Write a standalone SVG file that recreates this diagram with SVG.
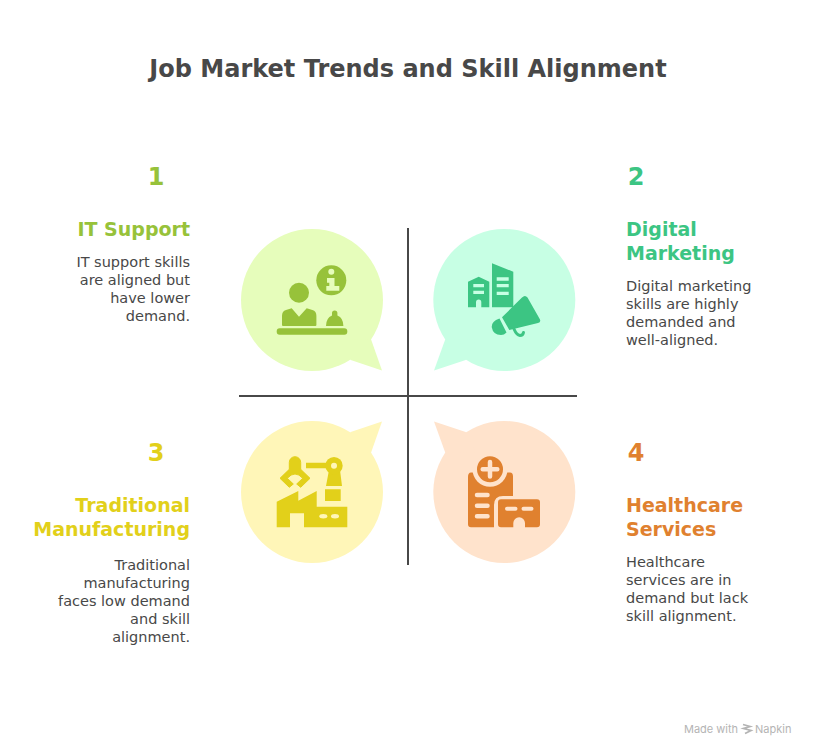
<svg xmlns="http://www.w3.org/2000/svg" width="816" height="756" viewBox="0 0 816 756">
<style>
text{font-family:"DejaVu Sans","Open Sans",sans-serif}
.t{font-size:24px;font-weight:700;fill:#484848}
.n{font-size:24px;font-weight:700}
.h{font-size:19px;font-weight:700}
.b{font-size:14.500px;fill:#484848}
.f{font-family:"Inter","Roboto",sans-serif;font-size:11px;fill:#b4b4b4}
.e{text-anchor:end}
.c{text-anchor:middle}
.g{fill:#97c23a}.m{fill:#3cc583}.y{fill:#e2d01a}.o{fill:#e0812f}
.sg{fill:#e6fdbb}.sm{fill:#c7ffe4}.sy{fill:#fff6b8}.so{fill:#ffe3cc}
.ax{stroke:#484848;stroke-width:2;fill:none}
</style>
<rect width="816" height="756" fill="#fff"/>
<text class="t c" x="408" y="77">Job Market Trends and Skill Alignment</text>
<g id="connectors"><path class="ax" d="M408 228V565M239 396H577"/></g>
<g id="node1">
<circle class="sg" cx="312" cy="300" r="71"/><path class="sg" d="M371 339.300L382 370.500 350.700 360 340 340z"/>
<text class="n g c" x="156" y="185">1</text>
<text class="h g e" x="190" y="236">IT Support</text>
<text class="b e" x="190" y="267">IT support skills</text><text class="b e" x="190" y="285">are aligned but</text><text class="b e" x="190" y="303">have lower</text><text class="b e" x="190" y="321">demand.</text>
<circle cx="299" cy="292.700" r="10" class="g"/>
<path class="g" d="M283 326q-1 0-1-1v-9q0-5 4-6l5.700-1.700 7.300 8.400 7.700-8.400 5.700 1.700q4 1 4 6v9q0 1-1 1z"/>
<rect x="276.700" y="328.300" width="70.600" height="6.400" rx="3" class="g"/>
<path class="g" d="M326 326q0-8 6-10.500v-2.500q0-2.500 2.700-2.500t2.700 2.500v2.500q6 2.500 6 10.500z"/>
<circle cx="331.300" cy="280.300" r="15" class="g"/>
<circle cx="331.300" cy="271.700" r="3" class="sg"/>
<path class="sg" d="M327 278h7.500v8h4.800v4.700h-13v-4.700h3v-3.300h-2.300z"/>
</g>
<g id="node2">
<circle class="sm" cx="504.300" cy="300" r="71"/><path class="sm" d="M445.300 339.300L434 370.500 465.700 360 476 340z"/>
<text class="n m c" x="636" y="185">2</text>
<text class="h m" x="626" y="236">Digital</text><text class="h m" x="626" y="260">Marketing</text>
<text class="b" x="626" y="291">Digital marketing</text><text class="b" x="626" y="309">skills are highly</text><text class="b" x="626" y="327">demanded and</text><text class="b" x="626" y="345">well-aligned.</text>
<path class="m" d="M468 281.700l10.700-5 10.600 5v25.600h-8v-5q0-2.700-2.600-2.700t-2.700 2.700v5h-8z"/>
<path class="sm" d="M473.300 284h10.700v3.300h-10.700zM473.300 290.700h10.700v3.300h-10.700z"/>
<path class="m" d="M492 263.300l21.300 8.400v35.600h-21.300z"/>
<path class="sm" d="M496.700 277.300h12v3.400h-12zM496.700 284h12v3.300h-12zM496.700 291.700h12v3.300h-12z"/>
<path class="m" d="M502 317.300L522 297.500q3-3 5.500 0L540 319.500q1 3-2 3.500L509.300 330z"/>
<path class="m" d="M499.500 318.500Q491.500 321 491.700 327Q493 335 501 335Q504 335 506.500 332.500z"/>
<path d="M514 329Q516.500 335 520 335.500Q523 335.500 523.500 332.500" stroke="#3cc583" stroke-width="3" fill="none" stroke-linecap="round"/>
</g>
<g id="node3">
<circle class="sy" cx="312" cy="492" r="71"/><path class="sy" d="M371 452.700L382 421.500 350.700 432 340 452z"/>
<text class="n y c" x="156" y="461">3</text>
<text class="h y e" x="190" y="512">Traditional</text><text class="h y e" x="190" y="536">Manufacturing</text>
<text class="b e" x="190" y="570">Traditional</text><text class="b e" x="190" y="588">manufacturing</text><text class="b e" x="190" y="606">faces low demand</text><text class="b e" x="190" y="624">and skill</text><text class="b e" x="190" y="642">alignment.</text>
<path class="y" d="M289.300 469.300V462.400a5.700 5.700 0 0 1 11.400 0V469.300L310 478.300 300.700 487.300 296.700 484 302.700 478.300Q299 474 295 474T287.300 478.300L293.300 484 289.300 487.300 280 478.300z" stroke="#e2d01a" stroke-width="1" stroke-linejoin="round"/>
<path class="y" d="M306 462.700h22v5.600h-22zM329 470h11l2 16h-16z"/>
<circle cx="334" cy="465.700" r="8.700" class="y"/><circle cx="334" cy="465.700" r="3" class="sy"/>
<path class="y" d="M325 489.300h15.700v11.700h-15.700zM276.700 501.700l21.600-10.700v9.700l18.400-9.700v15.700h30.600v20.600h-43.300v-14h-14v14h-13.300z"/>
<ellipse cx="323.300" cy="516.300" rx="4" ry="2.200" class="sy"/><ellipse cx="335" cy="516.300" rx="4" ry="2.200" class="sy"/>
</g>
<g id="node4">
<circle class="so" cx="504.300" cy="492" r="71"/><path class="so" d="M445.300 452.700L434 421.500 465.700 432 476 452z"/>
<text class="n o c" x="636" y="461">4</text>
<text class="h o" x="626" y="512">Healthcare</text><text class="h o" x="626" y="536">Services</text>
<text class="b" x="626" y="567">Healthcare</text><text class="b" x="626" y="585">services are in</text><text class="b" x="626" y="603">demand but lack</text><text class="b" x="626" y="621">skill alignment.</text>
<path class="o" d="M468 477q0-4.500 3-4.500h39q3 0 3 4v19.500h-10q-9 0-9 9v22.300h-23q-3 0-3-3z"/>
<circle cx="490" cy="469.300" r="17.500" class="so"/>
<circle cx="490" cy="469.300" r="13" class="o"/>
<path d="M490 462v14.600M482.700 469.300h14.600" stroke="#ffe3cc" stroke-width="4.500" stroke-linecap="round"/>
<path d="M477 495h10.500M477 505.700h10.500M477 516.300h10.500" stroke="#ffe3cc" stroke-width="4.500" stroke-linecap="round"/>
<path class="o" d="M501 499.300h36q3 0 3 3v22q0 3-3 3h-12v-4.200a5.800 5.800 0 0 0-11.700 0v4.200h-12.300q-3 0-3-3v-22q0-3 3-3z"/>
<path d="M507 508.700h8.500M523.500 508.700h8" stroke="#ffe3cc" stroke-width="4" stroke-linecap="round"/>
</g>
<g id="credit">
<text class="f" x="684" y="733">Made with</text>
<path d="M743 724.500l7 2-6.500 2 7.500 2-6 3" fill="none" stroke="#b4b4b4" stroke-width="1.800"/>
<text class="f" x="755" y="733">Napkin</text>
</g>
</svg>
